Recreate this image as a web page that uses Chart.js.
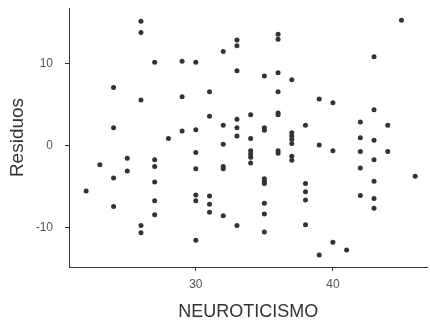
<!DOCTYPE html>
<html>
<head>
<meta charset="utf-8">
<script src="https://cdn.jsdelivr.net/npm/chart.js@4.4.0/dist/chart.umd.min.js"></script>
<style>
  body { margin: 0; background: #fff; }
  #wrap { width: 430px; height: 325px; }
</style>
</head>
<body>
<div id="wrap"><canvas id="residuos-chart" width="430" height="325"></canvas></div>
<script>
// valores
const neuroticismo = [
  22, 23,
  24, 24, 24, 24,
  25, 25,
  26, 26, 26, 26, 26,
  27, 27, 27, 27, 27, 27,
  28,
  29, 29, 29,
  30, 30, 30, 30, 30, 30, 30,
  31, 31, 31, 31, 31,
  32, 32, 32, 32, 32, 32,
  33, 33, 33, 33, 33, 33, 33,
  34, 34, 34, 34, 34, 34,
  35, 35, 35, 35, 35, 35, 35, 35, 35,
  36, 36, 36, 36, 36, 36, 36, 36,
  37, 37, 37, 37, 37, 37, 37,
  38, 38, 38, 38, 38,
  39, 39, 39,
  40, 40, 40,
  41,
  42, 42, 42, 42, 42,
  43, 43, 43, 43, 43, 43, 43,
  44, 44,
  45, 46
];
const residuos = [
  -5.5, -2.3,
  7.1, 2.2, -3.9, -7.4,
  -1.5, -3.05,
  15.2, 13.8, 5.6, -9.7, -10.6,
  10.2, -1.7, -2.5, -4.4, -6.7, -8.4,
  0.9,
  10.3, 6.0, 1.8,
  10.2, 1.95, -0.8, -2.8, -6.0, -6.7, -11.5,
  6.6, 3.6, -6.1, -7.1, -8.1,
  11.5, 2.5, 0.2, -2.5, -2.8, -8.5,
  12.9, 12.2, 9.15, 3.25, 2.2, 1.2, -9.7,
  3.8, 0.9, -0.6, -1.0, -1.4, -2.1,
  8.5, 2.2, 1.9, -4.0, -4.3, -4.6, -7.0, -8.3, -10.5,
  13.6, 13.0, 8.9, 6.6, 4.0, 3.8, -0.6, -0.9,
  8.05, 1.6, 1.2, 0.8, 0.3, -1.25, -1.75,
  2.5, -4.6, -5.6, -6.6, -9.6,
  5.7, 0.1, -13.3,
  5.25, -0.6, -11.75,
  -12.7,
  2.9, 1.0, -0.7, -2.7, -6.05,
  10.85, 4.4, 0.7, -1.7, -4.3, -6.4, -7.6,
  2.5, -0.7,
  15.3, -3.7
];
const xTicks = [30, 40];
const yTicks = [-10, 0, 10];

const puntos = neuroticismo.map((x, i) => ({ x: x, y: residuos[i] }));

const axisColor = '#333333';
const tickColor = '#555555';
const font = 'Liberation Sans, Arial, sans-serif';

const ctx = document.getElementById('residuos-chart').getContext('2d');
new Chart(ctx, {
  type: 'scatter',
  data: {
    datasets: [{
      data: puntos,
      backgroundColor: '#333333',
      borderColor: '#333333',
      borderWidth: 0,
      pointRadius: 2.5,
      pointHoverRadius: 2.5
    }]
  },
  options: {
    responsive: false,
    animation: false,
    layout: { padding: { top: 8, right: 0, left: 0, bottom: 0 } },
    plugins: { legend: { display: false }, tooltip: { enabled: false } },
    scales: {
      x: {
        type: 'linear',
        min: 20.75,
        max: 46.9,
        afterBuildTicks: (scale) => { scale.ticks = xTicks.map(v => ({ value: v })); },
        afterFit: (scale) => {
          scale.height = 58;
          scale.paddingLeft = 0;
          scale.paddingRight = 0;
        },
        border: { display: true, color: axisColor, width: 1 },
        grid: { display: true, drawOnChartArea: false, drawTicks: true, tickLength: 4, color: axisColor },
        ticks: { color: tickColor, font: { family: font, size: 12 }, padding: 6, maxRotation: 0 },
        title: {
          display: true,
          text: 'NEUROTICISMO',
          color: '#333333',
          font: { family: font, size: 18 },
          padding: { top: 0, bottom: 2 }
        }
      },
      y: {
        type: 'linear',
        min: -14.76,
        max: 16.8,
        afterBuildTicks: (scale) => { scale.ticks = yTicks.map(v => ({ value: v })); },
        afterFit: (scale) => {
          scale.width = 69;
          scale.paddingTop = 0;
          scale.paddingBottom = 0;
        },
        border: { display: true, color: axisColor, width: 1 },
        grid: { display: true, drawOnChartArea: false, drawTicks: true, tickLength: 4, color: axisColor },
        ticks: { color: tickColor, font: { family: font, size: 12 }, padding: 12 },
        title: {
          display: true,
          text: 'Residuos',
          color: '#333333',
          font: { family: font, size: 19 },
          padding: { top: 6, bottom: 0 }
        }
      }
    }
  }
});
</script>
</body>
</html>
